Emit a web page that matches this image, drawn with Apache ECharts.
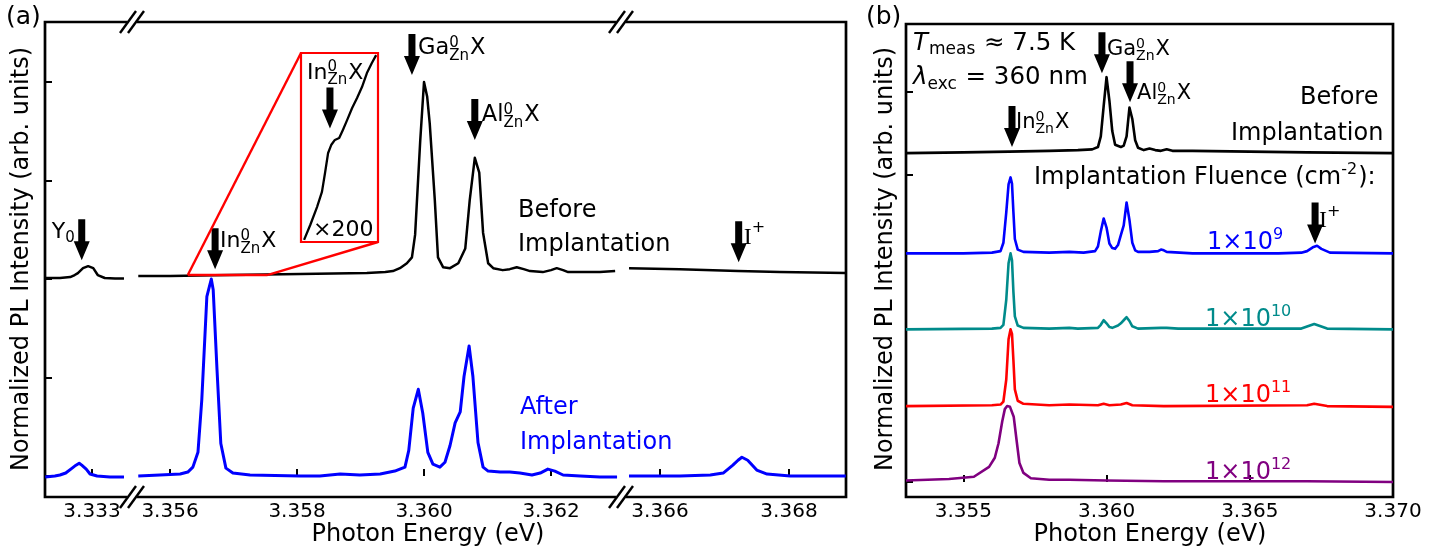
<!DOCTYPE html>
<html><head><meta charset="utf-8">
<script src="https://cdn.jsdelivr.net/npm/echarts@6/dist/echarts.min.js"></script>
<style>html,body{margin:0;padding:0;background:#fff}#c{width:1455px;height:552px}</style>
</head><body><div id="c"></div>
<script>
// ---------------- DATA ----------------
// Panel (a): three x segments (broken axis)
const aTicks1 = [3.333];
const aTicks2 = [3.356, 3.358, 3.360, 3.362];
const aTicks3 = [3.366, 3.368];
const aYTicks = [0, 1, 2, 3, 4];

const aBeforeE1 = [3.33227,3.33250,3.33266,3.33273,3.33278,3.33286,3.33294,3.33302,3.33309,3.33320,3.33336,3.33350];
const aBeforeI1 = [2.01,2.01,2.02,2.04,2.06,2.11,2.13,2.11,2.04,2.01,2.005,2.005];
const aAfterE1  = [3.33227,3.33242,3.33250,3.33259,3.33269,3.33275,3.33280,3.33284,3.33291,3.33297,3.33308,3.33328,3.33350];
const aAfterI1  = [-0.01,0.00,0.01,0.03,0.08,0.11,0.13,0.11,0.07,0.02,0.00,-0.01,-0.01];

const aBeforeE2 = [3.35550,3.35600,3.35694,3.35805,3.35910,3.35939,3.35951,3.35962,3.35973,3.35981,3.35986,3.35994,3.36000,3.36005,3.36009,3.36017,3.36022,3.36030,3.36041,3.36054,3.36065,3.36072,3.36080,3.36087,3.36093,3.36101,3.36109,3.36124,3.36135,3.36146,3.36157,3.36167,3.36187,3.36200,3.36209,3.36219,3.36227,3.36257,3.36277,3.36301];
const aBeforeI2 = [2.03,2.03,2.04,2.05,2.06,2.07,2.08,2.11,2.16,2.22,2.45,3.40,4.00,3.85,3.58,2.80,2.22,2.12,2.11,2.16,2.31,2.80,3.23,3.08,2.47,2.16,2.11,2.09,2.10,2.12,2.10,2.08,2.07,2.09,2.11,2.09,2.07,2.07,2.07,2.08];
const aAfterE2  = [3.35550,3.35584,3.35616,3.35628,3.35636,3.35644,3.35650,3.35658,3.35665,3.35668,3.35674,3.35680,3.35688,3.35699,3.35726,3.35805,3.35836,3.35868,3.35899,3.35931,3.35954,3.35970,3.35976,3.35983,3.35991,3.35998,3.36006,3.36014,3.36025,3.36033,3.36041,3.36049,3.36057,3.36063,3.36071,3.36077,3.36085,3.36093,3.36101,3.36120,3.36135,3.36151,3.36170,3.36183,3.36195,3.36206,3.36219,3.36246,3.36277,3.36304];
const aAfterI2  = [0.00,0.01,0.02,0.04,0.09,0.24,0.77,1.82,2.00,1.89,1.08,0.33,0.08,0.03,0.01,0.00,0.00,0.02,0.01,0.02,0.05,0.09,0.26,0.69,0.88,0.64,0.24,0.12,0.09,0.14,0.31,0.54,0.65,1.01,1.32,1.01,0.34,0.09,0.05,0.04,0.04,0.03,0.01,0.03,0.07,0.05,0.01,0.00,-0.01,-0.01];

const aBeforeE3 = [3.36552,3.36631,3.36721,3.36786,3.36888];
const aBeforeI3 = [2.11,2.10,2.08,2.07,2.06];
const aAfterE3  = [3.36552,3.36631,3.36678,3.36698,3.36713,3.36721,3.36727,3.36736,3.36750,3.36766,3.36802,3.36888];
const aAfterI3  = [0.00,0.00,0.01,0.03,0.11,0.16,0.19,0.16,0.06,0.02,0.00,0.00];

// Inset (x200 magnification of the "before" curve near In)
const insetE = [3.35633,3.35643,3.35654,3.35662,3.35667,3.35672,3.35677,3.35683,3.35690,3.35696,3.35703,3.35711,3.35719,3.35727,3.35735,3.35743,3.35750];
const insetI = [0.011,0.090,0.185,0.265,0.365,0.471,0.513,0.540,0.550,0.593,0.646,0.709,0.762,0.820,0.894,0.947,0.989];

// Panel (b)
const bTicks = [3.355, 3.360, 3.365, 3.370];
const bYTicks = [0, 4.04, 5.14];
const bBeforeE = [3.3530,3.3550,3.3566,3.3580,3.3590,3.3595,3.3597,3.3598,3.3599,3.3600,3.3601,3.3602,3.3603,3.3605,3.3606,3.3607,3.3608,3.3609,3.3610,3.3611,3.3613,3.3615,3.3617,3.3619,3.3621,3.3623,3.3630,3.3650,3.3670,3.3700];
const bBeforeI = [4.33,4.34,4.35,4.36,4.37,4.38,4.41,4.55,4.95,5.33,5.02,4.62,4.44,4.41,4.43,4.55,4.93,4.78,4.50,4.40,4.37,4.39,4.37,4.36,4.38,4.36,4.36,4.35,4.34,4.33];
const bF9E = [3.3530,3.3550,3.3560,3.3563,3.3564,3.3565,3.35658,3.35665,3.3567,3.35675,3.3568,3.3569,3.3571,3.3580,3.3587,3.3592,3.3596,3.3597,3.3598,3.3599,3.3600,3.3601,3.3602,3.3603,3.3604,3.3605,3.3606,3.3607,3.3608,3.3609,3.3610,3.3611,3.3615,3.3618,3.3619,3.3620,3.3621,3.3630,3.3660,3.3668,3.3670,3.3672,3.36735,3.3675,3.3678,3.3700];
const bF9I = [3.01,3.01,3.02,3.04,3.15,3.55,3.92,4.01,3.93,3.55,3.20,3.06,3.03,3.02,3.03,3.02,3.04,3.10,3.30,3.47,3.35,3.14,3.08,3.07,3.12,3.25,3.38,3.68,3.45,3.15,3.05,3.03,3.03,3.04,3.06,3.05,3.03,3.01,3.01,3.02,3.04,3.09,3.11,3.07,3.02,3.01];
const bF10E = [3.3530,3.3560,3.3563,3.3564,3.3565,3.35658,3.35665,3.3567,3.35675,3.3568,3.3569,3.3571,3.3580,3.3587,3.3590,3.3597,3.3598,3.3599,3.3600,3.3601,3.3602,3.3604,3.3605,3.3606,3.3607,3.3608,3.3609,3.3611,3.3619,3.3621,3.3625,3.3668,3.3671,3.36725,3.3674,3.3677,3.3700];
const bF10I = [2.01,2.02,2.03,2.07,2.40,2.88,3.01,2.92,2.50,2.18,2.06,2.03,2.02,2.03,2.02,2.03,2.07,2.13,2.09,2.04,2.03,2.06,2.09,2.13,2.17,2.12,2.05,2.02,2.03,2.03,2.02,2.02,2.06,2.08,2.06,2.02,2.01];
const bF11E = [3.3530,3.3560,3.3563,3.3564,3.3565,3.35658,3.35665,3.3567,3.35675,3.3568,3.3569,3.3571,3.3580,3.3587,3.3597,3.3599,3.3601,3.3605,3.3607,3.3609,3.3620,3.3670,3.36725,3.3677,3.3700];
const bF11I = [1.00,1.01,1.02,1.06,1.35,1.88,2.01,1.95,1.60,1.22,1.07,1.03,1.01,1.02,1.01,1.03,1.01,1.02,1.04,1.01,1.00,1.01,1.03,1.00,0.99];
const bF12E = [3.3530,3.3545,3.35537,3.3559,3.3561,3.35623,3.35636,3.35645,3.35653,3.35663,3.35676,3.35686,3.35696,3.35710,3.35736,3.3580,3.3587,3.3600,3.3620,3.3650,3.3670,3.3700];
const bF12I = [0.02,0.04,0.07,0.20,0.32,0.51,0.80,0.96,1.00,0.99,0.86,0.55,0.25,0.12,0.05,0.03,0.03,0.02,0.01,0.01,0.01,0.00];

// ---------------- CHART ----------------
const FONT = 'DejaVu Sans';
const BLK = '#000000', BLUE = '#0000ff', TEAL = '#008b8b', RED = '#ff0000', PURPLE = '#800080';
const zip = (xs, ys) => xs.slice(0, Math.min(xs.length, ys.length)).map((x, i) => [x, ys[i]]);

const chart = echarts.init(document.getElementById('c'), null, {renderer: 'canvas', width: 1455, height: 552});

const yA = {min: -0.2132, max: 4.609};
const tickStyle = {inside: true, length: 7, lineStyle: {color: BLK, width: 2}};
const labelStyle = {color: BLK, fontSize: 20, fontFamily: FONT, margin: 5, formatter: v => Number(v).toFixed(3)};

function xAx(grid, min, max, ticks) {
  return {type: 'value', gridIndex: grid, min, max, axisLine: {show: false},
    axisTick: Object.assign({customValues: ticks}, tickStyle),
    axisLabel: Object.assign({customValues: ticks}, labelStyle),
    splitLine: {show: false}};
}
function hiddenAx(grid, min, max) {
  return {type: 'value', gridIndex: grid, min, max, show: false, splitLine: {show: false}};
}
function line(xi, data, color, width) {
  return {type: 'line', xAxisIndex: xi, yAxisIndex: xi, data, showSymbol: false, symbol: 'none',
    lineStyle: {color, width, join: 'round'}, itemStyle: {color}, animation: false, z: 3, silent: true};
}

const option = {
  animation: false,
  backgroundColor: '#ffffff',
  grid: [
    {left: 45, top: 22, width: 88, height: 475},
    {left: 133, top: 22, width: 489, height: 475},
    {left: 622, top: 22, width: 224, height: 475},
    {left: 301, top: 53, width: 77, height: 189, show: true, borderColor: RED, borderWidth: 2.2, backgroundColor: 'transparent'},
    {left: 906, top: 24, width: 487, height: 473, show: true, borderColor: BLK, borderWidth: 2.7},
    {left: 45, top: 22, width: 801, height: 475, show: true, borderColor: BLK, borderWidth: 2.7}
  ],
  xAxis: [
    xAx(0, 3.332266, 3.333641, aTicks1),
    xAx(1, 3.355417, 3.363118, aTicks2),
    xAx(2, 3.365411, 3.368884, aTicks3),
    hiddenAx(3, 3.35628, 3.35753),
    xAx(4, 3.353, 3.370, bTicks),
    hiddenAx(5, 0, 1)
  ],
  yAxis: [
    {type: 'value', gridIndex: 0, min: yA.min, max: yA.max, axisLine: {show: false},
      axisTick: Object.assign({customValues: aYTicks}, tickStyle), axisLabel: {show: false}, splitLine: {show: false}},
    hiddenAx(1, yA.min, yA.max),
    hiddenAx(2, yA.min, yA.max),
    hiddenAx(3, 0, 1),
    {type: 'value', gridIndex: 4, min: -0.197, max: 6.03, axisLine: {show: false},
      axisTick: Object.assign({customValues: bYTicks}, tickStyle), axisLabel: {show: false}, splitLine: {show: false}},
    hiddenAx(5, 0, 1)
  ],
  series: [
    line(0, zip(aBeforeE1, aBeforeI1), BLK, 2.5),
    line(0, zip(aAfterE1, aAfterI1), BLUE, 3),
    line(1, zip(aBeforeE2, aBeforeI2), BLK, 2.5),
    line(1, zip(aAfterE2, aAfterI2), BLUE, 3),
    line(2, zip(aBeforeE3, aBeforeI3), BLK, 2.5),
    line(2, zip(aAfterE3, aAfterI3), BLUE, 3),
    line(3, zip(insetE, insetI), BLK, 2.3),
    line(4, zip(bBeforeE, bBeforeI), BLK, 2.6),
    line(4, zip(bF9E, bF9I), BLUE, 2.6),
    line(4, zip(bF10E, bF10I), TEAL, 2.6),
    line(4, zip(bF11E, bF11I), RED, 2.6),
    line(4, zip(bF12E, bF12I), PURPLE, 2.6)
  ]
};
chart.setOption(option);

// ---------------- ANNOTATIONS ----------------
const mctx = document.createElement('canvas').getContext('2d');
function tw(t, size, style, fam) { mctx.font = (style || 'normal') + ' ' + size + 'px "' + (fam || FONT) + '"'; return mctx.measureText(t).width; }
function txt(x, y, t, size, color, extra) {
  return Object.assign({type: 'text', x, y, z: 100, silent: true,
    style: Object.assign({text: t, fontSize: size, fontFamily: FONT, fill: color, align: 'left', verticalAlign: 'middle'}, extra || {})});
}
// parts: string | {t, italic, fam} | {sup, sub, supDy, subDy}
function lab(x, cy, size, parts, color) {
  const els = []; let cx = x; const small = Math.round(size * 0.68);
  const yMain = cy + 0.1 * size;
  for (const p of parts) {
    if (typeof p === 'string') { els.push(txt(cx, yMain, p, size, color)); cx += tw(p, size); }
    else if (p.t !== undefined) {
      const st = p.italic ? 'italic' : 'normal';
      els.push(txt(cx, yMain, p.t, size, color, {fontStyle: st, fontFamily: p.fam || FONT}));
      cx += tw(p.t, size, st, p.fam) + (p.after || 0);
    } else {
      let w = 0;
      if (p.sup !== undefined) { els.push(txt(cx, cy + (p.supDy !== undefined ? p.supDy : -0.2) * size + 0.08 * small, p.sup, small, color)); w = Math.max(w, tw(p.sup, small)); }
      if (p.sub !== undefined) { els.push(txt(cx, cy + (p.subDy !== undefined ? p.subDy : 0.4) * size + 0.05 * small, p.sub, small, color)); w = Math.max(w, tw(p.sub, small)); }
      cx += w + 1;
    }
  }
  return els;
}
function arrow(tx, ty) {
  return {type: 'polygon', z: 100, silent: true, shape: {points: [
    [tx - 3.5, ty - 41], [tx + 3.5, ty - 41], [tx + 3.5, ty - 19], [tx + 8, ty - 19], [tx, ty], [tx - 8, ty - 19], [tx - 3.5, ty - 19]]},
    style: {fill: BLK}};
}
function seg(x1, y1, x2, y2, color, w) {
  return {type: 'line', z: 101, silent: true, shape: {x1, y1, x2, y2}, style: {stroke: color, lineWidth: w}};
}
const P = (g, e, v) => chart.convertToPixel({gridIndex: g}, [e, v]);

const el = [];
// arrows: grid, energy, intensity, label offset, label parts, size
const arrows = [
  {g: 0, e: 3.33284, v: 2.19, dx: -30, dy: -30, parts: ['Y', {sub: '0', subDy: 0.3}], s: 22},
  {g: 1, e: 3.35671, v: 2.10, dx: 5, dy: -30, parts: ['In', {sup: '0', sub: 'Zn'}, 'X'], s: 22},
  {g: 1, e: 3.35981, v: 4.07, dx: 6, dy: -29, parts: ['Ga', {sup: '0', sub: 'Zn'}, 'X'], s: 22.5},
  {g: 1, e: 3.36080, v: 3.41, dx: 7, dy: -27, parts: ['Al', {sup: '0', sub: 'Zn'}, 'X'], s: 22.5},
  {g: 2, e: 3.36722, v: 2.17, dx: 5, dy: -27, parts: [{t: 'I', fam: 'Liberation Serif'}, {sup: '+', supDy: -0.35}], s: 24},
  {g: 3, e: 3.35675, v: 0.60, dx: -23, dy: -58, parts: ['In', {sup: '0', sub: 'Zn'}, 'X'], s: 22},
  {g: 4, e: 3.35670, v: 4.41, dx: 4, dy: -27, parts: ['In', {sup: '0', sub: 'Zn'}, 'X'], s: 21},
  {g: 4, e: 3.35984, v: 5.38, dx: 5, dy: -26, parts: ['Ga', {sup: '0', sub: 'Zn'}, 'X'], s: 21},
  {g: 4, e: 3.36082, v: 5.00, dx: 7, dy: -11, parts: ['Al', {sup: '0', sub: 'Zn'}, 'X'], s: 21},
  {g: 4, e: 3.36728, v: 3.14, dx: 4, dy: -25, parts: [{t: 'I', fam: 'Liberation Serif'}, {sup: '+', supDy: -0.35}], s: 24}
];
for (const a of arrows) {
  const p = P(a.g, a.e, a.v);
  el.push(arrow(p[0], p[1]));
  el.push(...lab(p[0] + a.dx, p[1] + a.dy, a.s, a.parts, BLK));
}

// inset zoom indicator
const z1 = P(1, 3.35628, 2.04), z2 = P(1, 3.35753, 2.04);
const iTL = P(3, 3.35628, 1), iBR = P(3, 3.35753, 0);
el.push(seg(z1[0], z1[1], z2[0], z2[1], RED, 2.4));
el.push(seg(iTL[0], iTL[1], z1[0], z1[1], RED, 2.4));
el.push(seg(iBR[0], iBR[1], z2[0], z2[1], RED, 2.4));
el.push(...lab(313, 228, 22, ['\u00d7200'], BLK));

// axis breaks
for (const bx of [133, 622]) {
  for (const by of [22, 497]) {
    el.push({type: 'rect', z: 99, silent: true, shape: {x: bx - 6, y: by - 2, width: 10, height: 4}, style: {fill: '#fff'}});
    el.push(seg(bx - 13, by + 11, bx + 3, by - 11, BLK, 2.4));
    el.push(seg(bx - 5, by + 11, bx + 11, by - 11, BLK, 2.4));
  }
}

// texts panel (a)
el.push(txt(6, 17, '(a)', 25, BLK));
el.push(...lab(518, 208, 24, ['Before'], BLK));
el.push(...lab(518, 242, 24, ['Implantation'], BLK));
el.push(...lab(520, 405, 24, ['After'], BLUE));
el.push(...lab(520, 440, 24, ['Implantation'], BLUE));
el.push(txt(428, 535, 'Photon Energy (eV)', 24, BLK, {align: 'center'}));
el.push(Object.assign(txt(22, 259, 'Normalized PL Intensity (arb. units)', 24, BLK, {align: 'center'}), {rotation: Math.PI / 2}));

// texts panel (b)
el.push(txt(866, 17, '(b)', 25, BLK));
el.push(...lab(913, 41, 24.5, [{t: 'T', italic: true, after: 1}, {sub: 'meas', subDy: 0.3}, ' \u2248 7.5 K'], BLK));
el.push(...lab(913, 75, 24.5, [{t: '\u03bb', italic: true}, {sub: 'exc', subDy: 0.35}, ' = 360 nm'], BLK));
el.push(...lab(1300, 95, 24, ['Before'], BLK));
el.push(...lab(1231, 131, 24, ['Implantation'], BLK));
el.push(...lab(1034, 175, 24, ['Implantation Fluence (cm', {sup: '-2', supDy: -0.28}, '):'], BLK));
el.push(...lab(1207, 240, 24, ['1\u00d710', {sup: '9', supDy: -0.28}], BLUE));
el.push(...lab(1205, 317, 24, ['1\u00d710', {sup: '10', supDy: -0.28}], TEAL));
el.push(...lab(1205, 393, 24, ['1\u00d710', {sup: '11', supDy: -0.28}], RED));
el.push(...lab(1205, 470, 24, ['1\u00d710', {sup: '12', supDy: -0.28}], PURPLE));
el.push(txt(1150, 535, 'Photon Energy (eV)', 24, BLK, {align: 'center'}));
el.push(Object.assign(txt(886, 259, 'Normalized PL Intensity (arb. units)', 24, BLK, {align: 'center'}), {rotation: Math.PI / 2}));

chart.setOption({graphic: {elements: el}});
</script></body></html>
